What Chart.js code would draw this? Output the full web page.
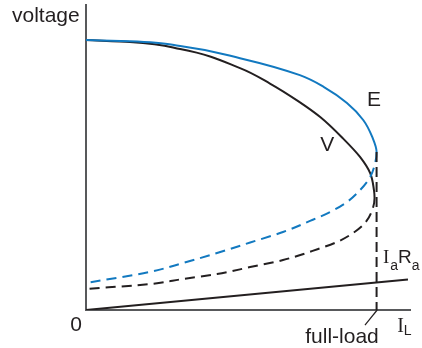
<!DOCTYPE html>
<html>
<head>
<meta charset="utf-8">
<script src="https://cdn.jsdelivr.net/npm/chart.js@4/dist/chart.umd.min.js"></script>
<style>
  html, body { margin: 0; padding: 0; background: #fff; }
  #wrap { width: 422px; height: 348px; position: relative; }
</style>
</head>
<body>
<div id="wrap"><canvas id="c" width="422" height="348"></canvas></div>
<script>
// Load current as % of full load (x), voltage as % of no-load value (y)
// E curve: solid upper branch, then dashed lower branch (after the full-load point)
const eX = [0, 15.1, 32.4, 53.0, 73.6, 81.9, 89.8, 95.4, 98.5, 100,
            99.5, 97.8, 94.3, 89.8, 84.0, 77.1, 67.8, 56.5, 45.1, 33.4, 22.0, 0];
const eY = [100, 99.6, 97.8, 93.3, 87.0, 82.6, 76.7, 70.4, 64.1, 58.5,
            54.4, 49.3, 44.4, 40.0, 36.3, 33.0, 28.9, 25.0, 21.1, 17.4, 14.1, 10.0];
const eTurn = 9;   // index of the full-load point on E
// V curve: solid upper branch, then dashed lower branch
const vX = [0, 15.1, 32.4, 53.0, 63.3, 73.0, 80.6, 88.5, 94.3, 97.8, 99.1, 99.3,
            98.5, 96.0, 91.9, 86.4, 79.9, 67.8, 56.5, 45.1, 33.4, 22.0, 0];
const vY = [100, 99.3, 96.7, 89.6, 83.9, 77.4, 71.5, 63.5, 56.7, 50.7, 44.4, 41.5,
            37.0, 32.2, 28.5, 25.2, 22.6, 18.5, 15.9, 13.3, 11.5, 9.6, 7.8];
const vTurn = 11;
const iaRaX     = [0, 110.8];
const iaRaY     = [0, 11.3];
const fullLoadX = [100, 100];
const fullLoadY = [58.5, 0];
const leaderX   = [100.2, 96.0];
const leaderY   = [0, -5.6];

const BLUE = '#1279c0';
const BLACK = '#231f20';
const AXIS = '#58595b';

function pts(xs, ys) { return xs.map((x, i) => ({ x: x, y: ys[i] })); }

function curve(xs, ys, turn, color) {
  return {
    data: pts(xs, ys),
    borderColor: color,
    borderWidth: 2,
    pointRadius: 0,
    cubicInterpolationMode: 'monotone',
    fill: false,
    segment: {
      borderDash: ctx => (ctx.p0DataIndex >= turn ? [10, 6] : undefined)
    }
  };
}

function straight(xs, ys, color, dash, extra) {
  return Object.assign({
    data: pts(xs, ys),
    borderColor: color,
    borderWidth: 2,
    borderDash: dash || [],
    pointRadius: 0,
    tension: 0,
    fill: false
  }, extra || {});
}

function drawRuns(ctx, runs, x, y) {
  let cx = x;
  runs.forEach(r => {
    ctx.font = r.font;
    ctx.fillText(r.t, cx, y + (r.dy || 0));
    cx += ctx.measureText(r.t).width + (r.gap || 0);
  });
}

const labels = {
  id: 'labels',
  afterDatasetsDraw(chart) {
    const ctx = chart.ctx;
    const xs = chart.scales.x, ys = chart.scales.y;
    const sans = '"Liberation Sans", Arial, sans-serif';
    const serif = '"Liberation Serif", "Times New Roman", serif';
    ctx.save();
    ctx.fillStyle = BLACK;
    ctx.textBaseline = 'alphabetic';
    ctx.textAlign = 'left';
    ctx.font = '21px ' + sans;
    ctx.fillText('voltage', 12, 22);
    ctx.textAlign = 'center';
    ctx.textBaseline = 'middle';
    ctx.fillText('E', xs.getPixelForValue(99.1), ys.getPixelForValue(77.8));
    ctx.fillText('V', xs.getPixelForValue(83.0), ys.getPixelForValue(61.1));
    ctx.fillText('0', xs.getPixelForValue(-3.4), ys.getPixelForValue(-5.6));
    ctx.textBaseline = 'alphabetic';
    ctx.fillText('full-load', xs.getPixelForValue(88.1), ys.getPixelForValue(-12.2));
    ctx.textAlign = 'left';
    drawRuns(ctx, [
      { t: 'I', font: '19px ' + serif, gap: 1 },
      { t: 'a', font: '14px ' + sans, dy: 7 },
      { t: 'R', font: '19px ' + sans },
      { t: 'a', font: '14px ' + sans, dy: 7 }
    ], xs.getPixelForValue(102.2), ys.getPixelForValue(17.4));
    drawRuns(ctx, [
      { t: 'I', font: '20px ' + serif, gap: 0 },
      { t: 'L', font: '14px ' + sans, dy: 3 }
    ], xs.getPixelForValue(107.1), ys.getPixelForValue(-8.1));
    ctx.restore();
  }
};

new Chart(document.getElementById('c'), {
  type: 'line',
  data: {
    datasets: [
      straight(iaRaX, iaRaY, BLACK),
      straight(fullLoadX, fullLoadY, BLACK, [10, 5]),
      straight(leaderX, leaderY, BLACK, [], { borderWidth: 1.2, clip: false }),
      curve(eX, eY, eTurn, BLUE),
      curve(vX, vY, vTurn, BLACK)
    ]
  },
  options: {
    indexAxis: 'y',
    responsive: false,
    animation: false,
    events: [],
    layout: { padding: { left: 86, top: 5, right: 12, bottom: 38 } },
    plugins: { legend: { display: false }, tooltip: { enabled: false } },
    scales: {
      x: {
        type: 'linear', min: 0, max: 111.5,
        ticks: { display: false },
        grid: { display: false, drawTicks: false },
        border: { display: true, color: AXIS, width: 2 }
      },
      y: {
        type: 'linear', min: 0, max: 113,
        ticks: { display: false },
        grid: { display: false, drawTicks: false },
        border: { display: true, color: AXIS, width: 2 }
      }
    }
  },
  plugins: [labels]
});
</script>
</body>
</html>
